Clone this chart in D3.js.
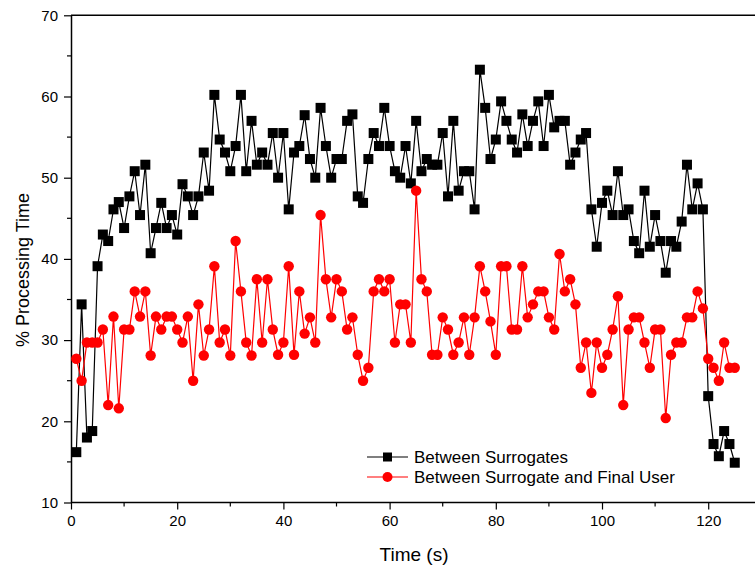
<!DOCTYPE html>
<html>
<head>
<meta charset="utf-8">
<script src="https://cdn.jsdelivr.net/npm/d3@7"></script>
<style>
  body { margin: 0; background: #fff; }
  svg { display: block; font-family: "Liberation Sans", Arial, sans-serif; }
</style>
</head>
<body>
<svg id="chart" width="755" height="567"></svg>
<script>
const times = d3.range(1, 126);
const surrogates = [
  16.2, 34.4, 18.0, 18.8, 39.1, 43.0, 42.2, 46.1, 47.0, 43.8,
  47.7, 50.8, 45.4, 51.6, 40.7, 43.8, 46.9, 43.8, 45.4, 43.0,
  49.2, 47.7, 45.4, 47.7, 53.1, 48.4, 60.2, 54.7, 53.1, 50.8,
  53.9, 60.2, 50.8, 57.0, 51.6, 53.1, 51.6, 55.5, 50.0, 55.5,
  46.1, 53.1, 53.9, 57.7, 52.3, 50.0, 58.6, 53.9, 50.0, 52.3,
  52.3, 57.0, 57.8, 47.7, 46.9, 52.3, 55.5, 53.9, 58.6, 53.9,
  50.8, 50.0, 53.9, 49.3, 57.0, 50.8, 52.3, 51.6, 51.6, 55.5,
  47.7, 57.0, 48.4, 50.8, 50.8, 46.1, 63.3, 58.6, 52.3, 54.7,
  59.4, 57.0, 54.7, 53.1, 57.8, 53.9, 57.0, 59.4, 53.9, 60.2,
  56.2, 57.0, 57.0, 51.6, 53.1, 54.7, 55.5, 46.1, 41.5, 46.9,
  48.4, 45.4, 50.8, 45.4, 46.1, 42.2, 40.7, 48.4, 41.5, 45.4,
  42.2, 38.3, 42.2, 41.5, 44.6, 51.6, 46.1, 49.3, 46.1, 23.1,
  17.2, 15.7, 18.8, 17.2, 14.9
];
const finalUser = [
  27.7, 25.0, 29.7, 29.7, 29.7, 31.3, 22.0, 32.9, 21.6, 31.3,
  31.3, 36.0, 32.9, 36.0, 28.1, 32.9, 31.3, 32.9, 32.9, 31.3,
  29.7, 32.9, 25.0, 34.4, 28.1, 31.3, 39.1, 29.7, 31.3, 28.1,
  42.2, 36.0, 29.7, 28.1, 37.5, 29.7, 37.5, 31.3, 28.2, 29.7,
  39.1, 28.2, 36.0, 30.8, 32.8, 29.7, 45.4, 37.5, 32.8, 37.5,
  36.0, 31.3, 32.8, 28.2, 25.0, 26.6, 36.0, 37.5, 36.0, 37.5,
  29.7, 34.4, 34.4, 29.7, 48.4, 37.5, 36.0, 28.2, 28.2, 32.8,
  31.3, 28.2, 29.7, 32.8, 28.2, 32.8, 39.1, 36.0, 32.3, 28.2,
  39.1, 39.1, 31.3, 31.3, 39.1, 32.8, 34.4, 36.0, 36.0, 32.8,
  31.3, 40.6, 36.0, 37.5, 34.4, 26.6, 29.7, 23.5, 29.7, 26.6,
  28.2, 31.3, 35.4, 22.0, 31.3, 32.8, 32.8, 29.7, 26.6, 31.3,
  31.3, 20.4, 28.2, 29.7, 29.7, 32.8, 32.8, 36.0, 33.9, 27.7,
  26.6, 25.0, 29.7, 26.6, 26.6
];
const seriesNames = ["Between Surrogates", "Between Surrogate and Final User"];
const xTicks = [0, 20, 40, 60, 80, 100, 120];
const yTicks = [10, 20, 30, 40, 50, 60, 70];

const svg = d3.select("#chart");
const mLeft = 71, mRight = 756, mTop = 15.3, mBottom = 502.5;
const x = d3.scaleLinear().domain([0, 129]).range([mLeft, mRight]);
const y = d3.scaleLinear().domain([10, 70]).range([mBottom, mTop]);
const FONT = "Liberation Sans, Arial, sans-serif";

// top frame line
svg.append("line").attr("x1", mLeft).attr("x2", 755).attr("y1", mTop).attr("y2", mTop)
  .attr("stroke", "#000").attr("stroke-width", 1.5);

// x axis
const xAxis = svg.append("g").attr("transform", `translate(0,${mBottom})`);
xAxis.call(d3.axisBottom(x).tickValues(xTicks).tickSize(7).tickPadding(6).tickSizeOuter(0));
xAxis.append("g").selectAll("line").data(d3.range(10, 130, 20)).join("line")
  .attr("x1", d => x(d)).attr("x2", d => x(d)).attr("y1", 0).attr("y2", 4)
  .attr("stroke", "#000").attr("stroke-width", 1.2);
xAxis.select(".domain").attr("d", `M${mLeft},0H755`).attr("stroke-width", 1.5);
xAxis.selectAll(".tick line").attr("stroke-width", 1.2);
xAxis.selectAll("text").attr("font-size", 15).attr("font-family", FONT).attr("fill", "#000");

// y axis
const yAxis = svg.append("g").attr("transform", `translate(${mLeft},0)`);
yAxis.call(d3.axisLeft(y).tickValues(yTicks).tickSize(7).tickPadding(6).tickSizeOuter(0));
yAxis.append("g").selectAll("line").data(d3.range(15, 70, 10)).join("line")
  .attr("y1", d => y(d)).attr("y2", d => y(d)).attr("x1", 0).attr("x2", -4)
  .attr("stroke", "#000").attr("stroke-width", 1.2);
yAxis.select(".domain").attr("stroke-width", 1.5);
yAxis.selectAll(".tick line").attr("stroke-width", 1.2);
yAxis.selectAll("text").attr("font-size", 15).attr("font-family", FONT).attr("fill", "#000");

// axis titles
svg.append("text").attr("x", 414).attr("y", 561).attr("text-anchor", "middle")
  .attr("font-size", 19).text("Time (s)");
svg.append("text").attr("transform", `translate(23,270) rotate(-90)`)
  .attr("text-anchor", "middle").attr("dy", "0.35em").attr("font-size", 18).text("% Processing Time");

const line = d3.line().x((d, i) => x(times[i])).y(d => y(d));

// black series
svg.append("path").datum(surrogates).attr("d", line)
  .attr("fill", "none").attr("stroke", "#000").attr("stroke-width", 1.2);
// red series
svg.append("path").datum(finalUser).attr("d", line)
  .attr("fill", "none").attr("stroke", "#ff0000").attr("stroke-width", 1.2);

svg.append("g").selectAll("rect").data(surrogates).join("rect")
  .attr("x", (d, i) => x(times[i]) - 5).attr("y", d => y(d) - 5)
  .attr("width", 10).attr("height", 10).attr("fill", "#000");

svg.append("g").selectAll("circle").data(finalUser).join("circle")
  .attr("cx", (d, i) => x(times[i])).attr("cy", d => y(d)).attr("r", 5.2)
  .attr("fill", "#ff0000");

// legend
const legend = svg.append("g");
const ly = [457, 477];
legend.append("line").attr("x1", 367).attr("x2", 408).attr("y1", ly[0]).attr("y2", ly[0])
  .attr("stroke", "#000").attr("stroke-width", 1.2);
legend.append("rect").attr("x", 383).attr("y", ly[0] - 4.5).attr("width", 9).attr("height", 9).attr("fill", "#000");
legend.append("line").attr("x1", 367).attr("x2", 408).attr("y1", ly[1]).attr("y2", ly[1])
  .attr("stroke", "#ff0000").attr("stroke-width", 1.2);
legend.append("circle").attr("cx", 387.5).attr("cy", ly[1]).attr("r", 5).attr("fill", "#ff0000");
seriesNames.forEach((name, i) => {
  legend.append("text").attr("x", 414).attr("y", ly[i]).attr("dy", "0.35em")
    .attr("font-size", 17).text(name);
});
</script>
</body>
</html>
